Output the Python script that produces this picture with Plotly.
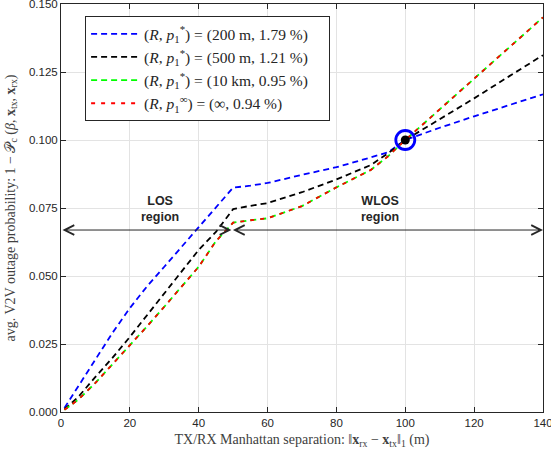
import plotly.graph_objects as go

# Data
sep_m = [1, 5, 10, 15, 20, 25, 30, 35, 40, 45, 50, 55, 60, 70, 80, 90, 95, 100, 110, 120, 130, 140]
out_200m = [0.0015, 0.0094, 0.0194, 0.0292, 0.0382, 0.0462, 0.0534, 0.0607, 0.0681, 0.0756, 0.0825,
            0.0832, 0.0842, 0.0872, 0.0900, 0.0936, 0.0955, 0.1000, 0.1045, 0.1087, 0.1128, 0.1168]
out_500m = [0.0010, 0.0055, 0.0129, 0.0200, 0.0276, 0.0355, 0.0437, 0.0515, 0.0596, 0.0662, 0.0746,
            0.0758, 0.0768, 0.0808, 0.0855, 0.0908, 0.0951, 0.1000, 0.1075, 0.1153, 0.1233, 0.1312]
out_10km = [0.0008, 0.0045, 0.0107, 0.0175, 0.0246, 0.0315, 0.0387, 0.0460, 0.0534, 0.0628, 0.0696,
            0.0705, 0.0712, 0.0757, 0.0826, 0.0890, 0.0940, 0.1000, 0.1113, 0.1226, 0.1338, 0.1451]
out_inf = [0.0008, 0.0045, 0.0107, 0.0175, 0.0246, 0.0315, 0.0387, 0.0460, 0.0534, 0.0628, 0.0696,
           0.0705, 0.0712, 0.0757, 0.0826, 0.0890, 0.0940, 0.1000, 0.1113, 0.1226, 0.1338, 0.1451]

pad = "&nbsp;" * 4
legend_labels = [
    "(<i>R</i>, <i>p</i><sub>1</sub><sup>*</sup>) = (200 m, 1.79 %)" + pad,
    "(<i>R</i>, <i>p</i><sub>1</sub><sup>*</sup>) = (500 m, 1.21 %)" + pad,
    "(<i>R</i>, <i>p</i><sub>1</sub><sup>*</sup>) = (10 km, 0.95 %)" + pad,
    "(<i>R</i>, <i>p</i><sub>1</sub><sup>∞</sup>) = (∞, 0.94 %)" + pad,
]
series = [out_200m, out_500m, out_10km, out_inf]
colors = ["#0000ff", "#000000", "#00ff00", "#ff0000"]
dashes = ["6px,4px", "6px,4px", "6px,4px", "4px,6px"]

ref_x = [100]
ref_y = [0.100]

x_ticks = [0, 20, 40, 60, 80, 100, 120, 140]
y_ticks = [0.000, 0.025, 0.050, 0.075, 0.100, 0.125, 0.150]

region_y = [0.0669]
los_span = [0, 49.5]
wlos_span = [49.5, 140]
region_labels = ["<b>LOS</b><br><b>region</b>", "<b>WLOS</b><br><b>region</b>"]
region_label_x = [28.7, 92.6]
region_label_y = [0.0746, 0.0746]

fig = go.Figure()
for ys, name, c, d in zip(series, legend_labels, colors, dashes):
    fig.add_trace(go.Scatter(x=sep_m, y=ys, mode="lines", name=name,
                             line=dict(color=c, width=1.8, dash=d)))

fig.add_trace(go.Scatter(x=ref_x, y=ref_y, mode="markers", showlegend=False,
                         marker=dict(color="black", size=9)))
fig.add_trace(go.Scatter(x=ref_x, y=ref_y, mode="markers", showlegend=False,
                         marker=dict(symbol="circle-open", color="#0000ff", size=19,
                                     line=dict(width=2.8, color="#0000ff"))))

for span in (los_span, wlos_span):
    fig.add_annotation(x=span[1], y=region_y[0], ax=span[0], ay=region_y[0],
                       xref="x", yref="y", axref="x", ayref="y", text="",
                       showarrow=True, arrowhead=5, startarrowhead=5, arrowside="end+start",
                       arrowwidth=1, arrowsize=1.9, startarrowsize=1.9, arrowcolor="#262626",
                       standoff=0, startstandoff=0)

for t, lx, ly in zip(region_labels, region_label_x, region_label_y):
    fig.add_annotation(x=lx, y=ly, xref="x", yref="y", text=t, showarrow=False,
                       font=dict(family="Liberation Sans, Arial", size=12.5, color="#262626"))

axis_common = dict(showgrid=True, gridcolor="#e3e3e3", gridwidth=1, zeroline=False,
                   showline=True, linecolor="#262626", linewidth=1, mirror="allticks",
                   ticks="inside", ticklen=5, tickcolor="#262626", automargin=False,
                   ticklabeloverflow="allow",
                   tickfont=dict(family="Liberation Sans, Arial", size=11.5, color="#262626"))

fig.update_xaxes(range=[0, 140], tickvals=x_ticks, **axis_common,
                 title=dict(text="TX/RX Manhattan separation: ‖<b>x</b><sub>rx</sub> − <b>x</b><sub>tx</sub>‖<sub>1</sub> (m)",
                            font=dict(family="Liberation Serif, Times New Roman", size=14, color="#404040"),
                            standoff=6))
fig.update_yaxes(range=[0, 0.15], tickvals=y_ticks, tickformat=".3f", **axis_common,
                 title=dict(text="avg. V2V outage probability: 1 − 𝒫<sub>c</sub> (<i>β</i>, <b>x</b><sub>tx</sub>, <b>x</b><sub>rx</sub>)",
                            font=dict(family="Liberation Serif, Times New Roman", size=14, color="#404040"),
                            standoff=10))

fig.update_layout(
    width=551, height=460,
    margin=dict(l=61, r=8, t=4, b=48, autoexpand=False),
    plot_bgcolor="white", paper_bgcolor="white",
    showlegend=True,
    legend=dict(x=0.05, y=0.97, xanchor="left", yanchor="top",
                bgcolor="white", bordercolor="#262626", borderwidth=1,
                font=dict(family="Liberation Serif, Times New Roman", size=15.5, color="#262626"),
                itemwidth=48, tracegroupgap=2),
)

fig.write_html("out.html", config={"displayModeBar": False},
               post_script="document.body.style.margin='0px';")
